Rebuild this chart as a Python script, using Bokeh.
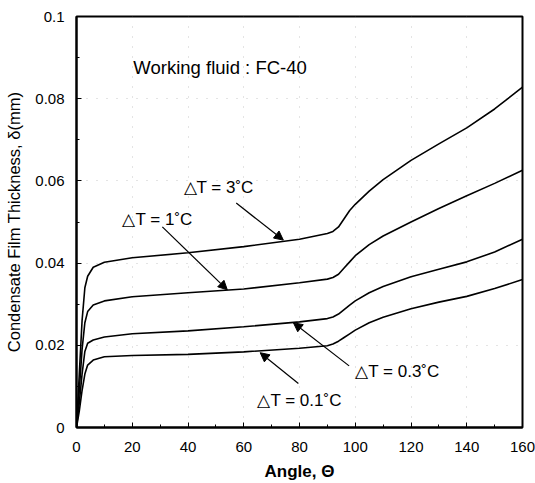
from bokeh.plotting import figure
from bokeh.models import Range1d, FixedTicker, Label, Arrow, NormalHead
from bokeh.embed import file_html
from bokeh.resources import INLINE

# ---- data ----
angle = [0, 1, 2, 3, 4, 6, 10, 20, 40, 60, 80, 90, 92, 94, 96, 98, 100, 105, 110, 120, 130, 140, 150, 160]
dt_3 = [0, 0.013, 0.026, 0.034, 0.0368, 0.0390, 0.0402, 0.0413, 0.0425, 0.044, 0.0458, 0.0472, 0.0477,
        0.0488, 0.0508, 0.0528, 0.0543, 0.0575, 0.0603, 0.065, 0.069, 0.0729, 0.0775, 0.0828]
dt_1 = [0, 0.009, 0.019, 0.0255, 0.0282, 0.0298, 0.0308, 0.0318, 0.0328, 0.0337, 0.0352, 0.0361, 0.0365,
        0.0373, 0.0388, 0.0403, 0.0418, 0.0445, 0.0466, 0.0500, 0.0533, 0.0564, 0.0594, 0.0626]
dt_03 = [0, 0.006, 0.013, 0.0185, 0.0205, 0.0213, 0.022, 0.0228, 0.0235, 0.0245, 0.0257, 0.0265, 0.0269,
         0.0276, 0.0287, 0.0298, 0.0308, 0.0328, 0.0343, 0.0367, 0.0385, 0.0403, 0.0427, 0.0458]
dt_01 = [0, 0.004, 0.009, 0.013, 0.0152, 0.0164, 0.0172, 0.0175, 0.0178, 0.0184, 0.0193, 0.0199, 0.0203,
         0.0210, 0.0219, 0.0228, 0.0237, 0.0255, 0.0268, 0.0289, 0.0305, 0.0319, 0.0338, 0.036]

x_ticks = [0, 20, 40, 60, 80, 100, 120, 140, 160]
y_ticks = [0, 0.02, 0.04, 0.06, 0.08, 0.1]
y_tick_labels = ["0", "0.02", "0.04", "0.06", "0.08", "0.1"]

FONT = "Liberation Sans"

p = figure(width=535, height=483, output_backend="svg", toolbar_location=None,
           x_range=Range1d(0, 160), y_range=Range1d(0, 0.1),
           min_border_left=76, min_border_right=13, min_border_top=16, min_border_bottom=55)
p.background_fill_color = "white"
p.border_fill_color = "white"
p.outline_line_color = "black"
p.outline_line_width = 2

for series in (dt_3, dt_1, dt_03, dt_01):
    p.line(angle, series, line_color="black", line_width=1.6)

# axes
p.xaxis.ticker = FixedTicker(ticks=x_ticks, minor_ticks=list(range(0, 161, 10)))
p.yaxis.ticker = FixedTicker(ticks=y_ticks, minor_ticks=[i / 100 for i in range(0, 11)])
p.yaxis.major_label_overrides = {t: l for t, l in zip(y_ticks, y_tick_labels)}
for ax in (p.xaxis[0], p.yaxis[0]):
    ax.axis_line_width = 2
    ax.axis_line_color = "black"
    ax.major_tick_in = 5
    ax.major_tick_out = 0
    ax.minor_tick_in = 3
    ax.minor_tick_out = 0
    ax.major_tick_line_color = "black"
    ax.minor_tick_line_color = "black"
    ax.major_label_text_font = FONT
    ax.major_label_text_font_size = "15px"
    ax.major_label_text_color = "black"
    ax.axis_label_text_font = FONT
    ax.axis_label_text_color = "black"

p.xaxis.major_label_standoff = 14
p.yaxis.major_label_standoff = 12
p.xaxis.axis_label = "Angle, \u0398"
p.xaxis.axis_label_text_font_style = "bold"
p.xaxis.axis_label_text_font_size = "17px"
p.xaxis.axis_label_standoff = 7
p.yaxis.axis_label = "Condensate Film Thickness, \u03b4(mm)"
p.yaxis.axis_label_text_font_style = "normal"
p.yaxis.axis_label_text_font_size = "16.5px"
p.yaxis.axis_label_standoff = 9

# faint dotted grid
p.xgrid.ticker = FixedTicker(ticks=x_ticks)
p.ygrid.ticker = FixedTicker(ticks=y_ticks)
for g in (p.xgrid[0], p.ygrid[0]):
    g.grid_line_color = "#888888"
    g.grid_line_alpha = 0.45
    g.grid_line_dash = "1 9"
    g.grid_line_width = 1

# annotations
p.add_layout(Label(x=20.4, y=0.0876, text="Working fluid : FC-40", text_font=FONT,
                   text_font_size="18.5px", text_color="black", text_align="left",
                   text_baseline="middle"))
labels = [
    ("\u25b3T = 3\u02daC", 38.4, 0.0585),
    ("\u25b3T = 1\u02daC", 16.5, 0.0507),
    ("\u25b3T = 0.3\u02daC", 100.0, 0.0136),
    ("\u25b3T = 0.1\u02daC", 64.9, 0.0066),
]
for txt, lx, ly in labels:
    p.add_layout(Label(x=lx, y=ly, text=txt, text_font=FONT, text_font_size="17px",
                       text_color="black", text_align="left", text_baseline="middle"))

arrows = [
    (57.3, 0.0546, 74.2, 0.0456),
    (30.8, 0.0488, 54.1, 0.0335),
    (97.8, 0.0150, 77.8, 0.0255),
    (79.6, 0.0107, 65.9, 0.0182),
]
for x0, y0, x1, y1 in arrows:
    p.add_layout(Arrow(x_start=x0, y_start=y0, x_end=x1, y_end=y1, line_color="black", line_width=1.2,
                       end=NormalHead(size=9, fill_color="black", line_color="black")))

open("out.html", "w").write(file_html(p, INLINE))
